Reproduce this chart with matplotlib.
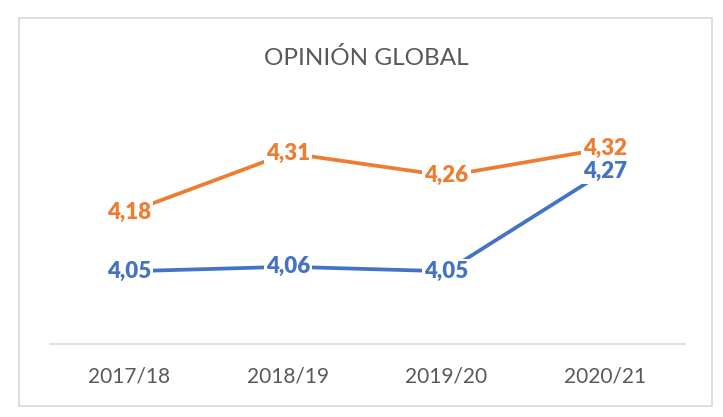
import matplotlib.pyplot as plt
from matplotlib.patches import Rectangle

# Data
years = ['2017/18', '2018/19', '2019/20', '2020/21']
orange_vals = [4.18, 4.31, 4.26, 4.32]
blue_vals = [4.05, 4.06, 4.05, 4.27]

orange = '#ED7D31'
blue = '#4472C4'
grey_text = '#595959'

plt.rcParams['font.family'] = ['Lato', 'DejaVu Sans']

fig = plt.figure(figsize=(7.23, 4.17), dpi=100)
ax = fig.add_axes([0.0685, 0.175, 0.8785, 0.556])

x = range(len(years))
ax.plot(x, blue_vals, color=blue, linewidth=2.7, solid_capstyle='butt', zorder=2)
ax.plot(x, orange_vals, color=orange, linewidth=2.7, solid_capstyle='butt', zorder=2)

# data labels centred on points, with white boxes hiding the line
for vals, col in [(blue_vals, blue), (orange_vals, orange)]:
    for xi, v in zip(x, vals):
        ax.text(xi, v, f'{v:.2f}'.replace('.', ','), color=col, fontsize=16,
                fontweight='heavy', ha='center', va='center', zorder=3,
                bbox=dict(facecolor='white', edgecolor='none', pad=1.5))

ax.set_xlim(-0.5, len(years) - 0.5)
ax.set_ylim(3.89, 4.40)
ax.set_xticks(list(x))
ax.set_xticklabels(years, fontsize=15, color=grey_text)
ax.tick_params(axis='x', length=0, pad=16)
ax.set_yticks([])
for side in ['left', 'right', 'top']:
    ax.spines[side].set_visible(False)
ax.spines['bottom'].set_color('#D9D9D9')
ax.spines['bottom'].set_linewidth(1.2)

fig.text(0.506, 0.861, 'OPINIÓN GLOBAL', ha='center', va='center',
         fontsize=17.5, color=grey_text)

# chart border
fig.patches.append(Rectangle((19 / 723, 1 - 406 / 417), 693 / 723, 388 / 417,
                             transform=fig.transFigure, fill=False,
                             edgecolor='#D9D9D9', linewidth=1.2))

plt.savefig('out.png', dpi=100)
